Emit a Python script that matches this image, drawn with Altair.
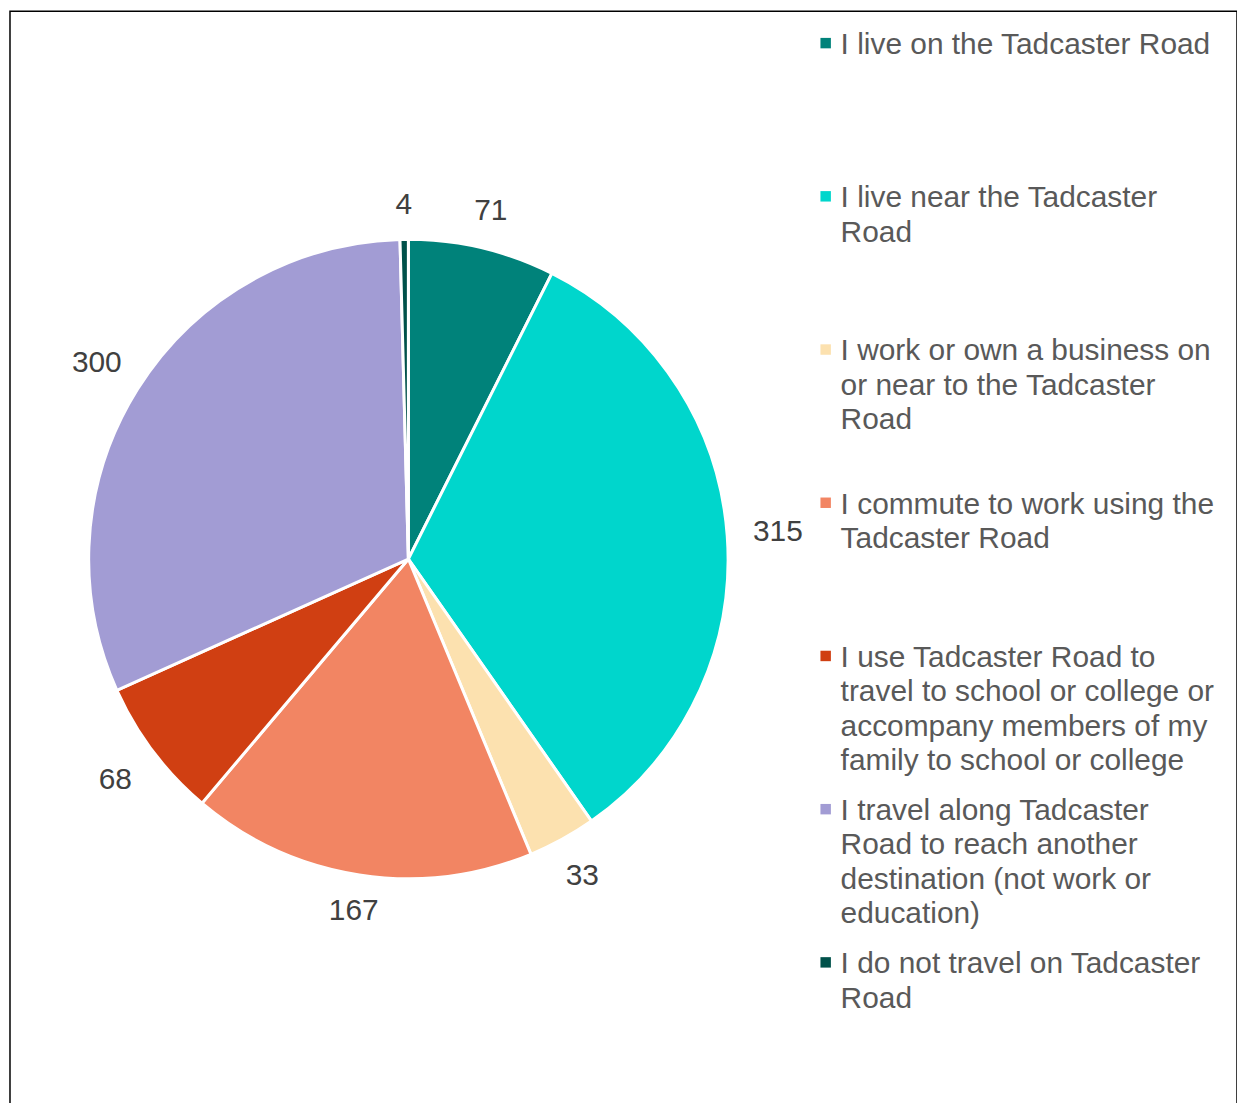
import altair as alt
import pandas as pd

categories = [
    "I live on the Tadcaster Road",
    "I live near the Tadcaster Road",
    "I work or own a business on or near to the Tadcaster Road",
    "I commute to work using the Tadcaster Road",
    "I use Tadcaster Road to travel to school or college or accompany members of my family to school or college",
    "I travel along Tadcaster Road to reach another destination (not work or education)",
    "I do not travel on Tadcaster Road",
]
legend_lines = [
    "I live on the Tadcaster Road",
    "I live near the Tadcaster\nRoad",
    "I work or own a business on\nor near to the Tadcaster\nRoad",
    "I commute to work using the\nTadcaster Road",
    "I use Tadcaster Road to\ntravel to school or college or\naccompany members of my\nfamily to school or college",
    "I travel along Tadcaster\nRoad to reach another\ndestination (not work or\neducation)",
    "I do not travel on Tadcaster\nRoad",
]
values = [71, 315, 33, 167, 68, 300, 4]
colors = ["#00827A", "#00D6CC", "#FCE1AF", "#F28563", "#D03F12", "#A29CD4", "#00514A"]

df = pd.DataFrame({
    "idx": list(range(len(categories))),
    "category": categories,
    "legend": legend_lines,
    "value": values,
})

color = alt.Color("category:N", scale=alt.Scale(domain=categories, range=colors), legend=None)
order = alt.Order("idx:Q")

base = alt.Chart(df)

pie = base.mark_arc(radius=321, stroke="white", strokeWidth=3).encode(
    theta=alt.Theta("value:Q", stack=True), color=color, order=order,
    x=alt.value(400), y=alt.value(550),
)

# labels at each slice's mid-angle; pushed out more where they sit beside the pie
labels = base.transform_window(
    cum="sum(value)", sort=[alt.SortField("idx")], frame=[None, 0]
).transform_joinaggregate(
    total="sum(value)"
).transform_calculate(
    mid="(datum.cum - datum.value / 2) / datum.total * 2 * PI",
).transform_calculate(
    lr="355 + 17 * abs(sin(datum.mid))"
).mark_text(fontSize=30, font="Liberation Sans", color="#404040").encode(
    theta=alt.Theta("mid:Q", scale=None, stack=None),
    radius=alt.Radius("lr:Q", scale=None),
    text=alt.Text("value:Q"),
    x=alt.value(400), y=alt.value(550),
)

ypos = alt.Y("idx:O", axis=None, scale=alt.Scale(type="point", range=[32, 955], padding=0))

leg_sym = base.mark_square(size=110, opacity=1).encode(
    x=alt.value(819), y=ypos, color=color,
)
leg_txt = base.mark_text(
    align="left", baseline="top", dy=-13, fontSize=30, font="Liberation Sans",
    color="#595959", lineBreak="\n", lineHeight=34.5,
).encode(
    x=alt.value(834), y=ypos, text="legend:N",
)

chart = alt.layer(pie, labels, leg_sym, leg_txt).properties(
    width=1232, height=1110, padding={"left": 2, "top": 1, "right": 0, "bottom": 0}
).configure_view(stroke="black", strokeWidth=1.5)

chart.save("out.html", embed_options={"renderer": "svg", "actions": False})
